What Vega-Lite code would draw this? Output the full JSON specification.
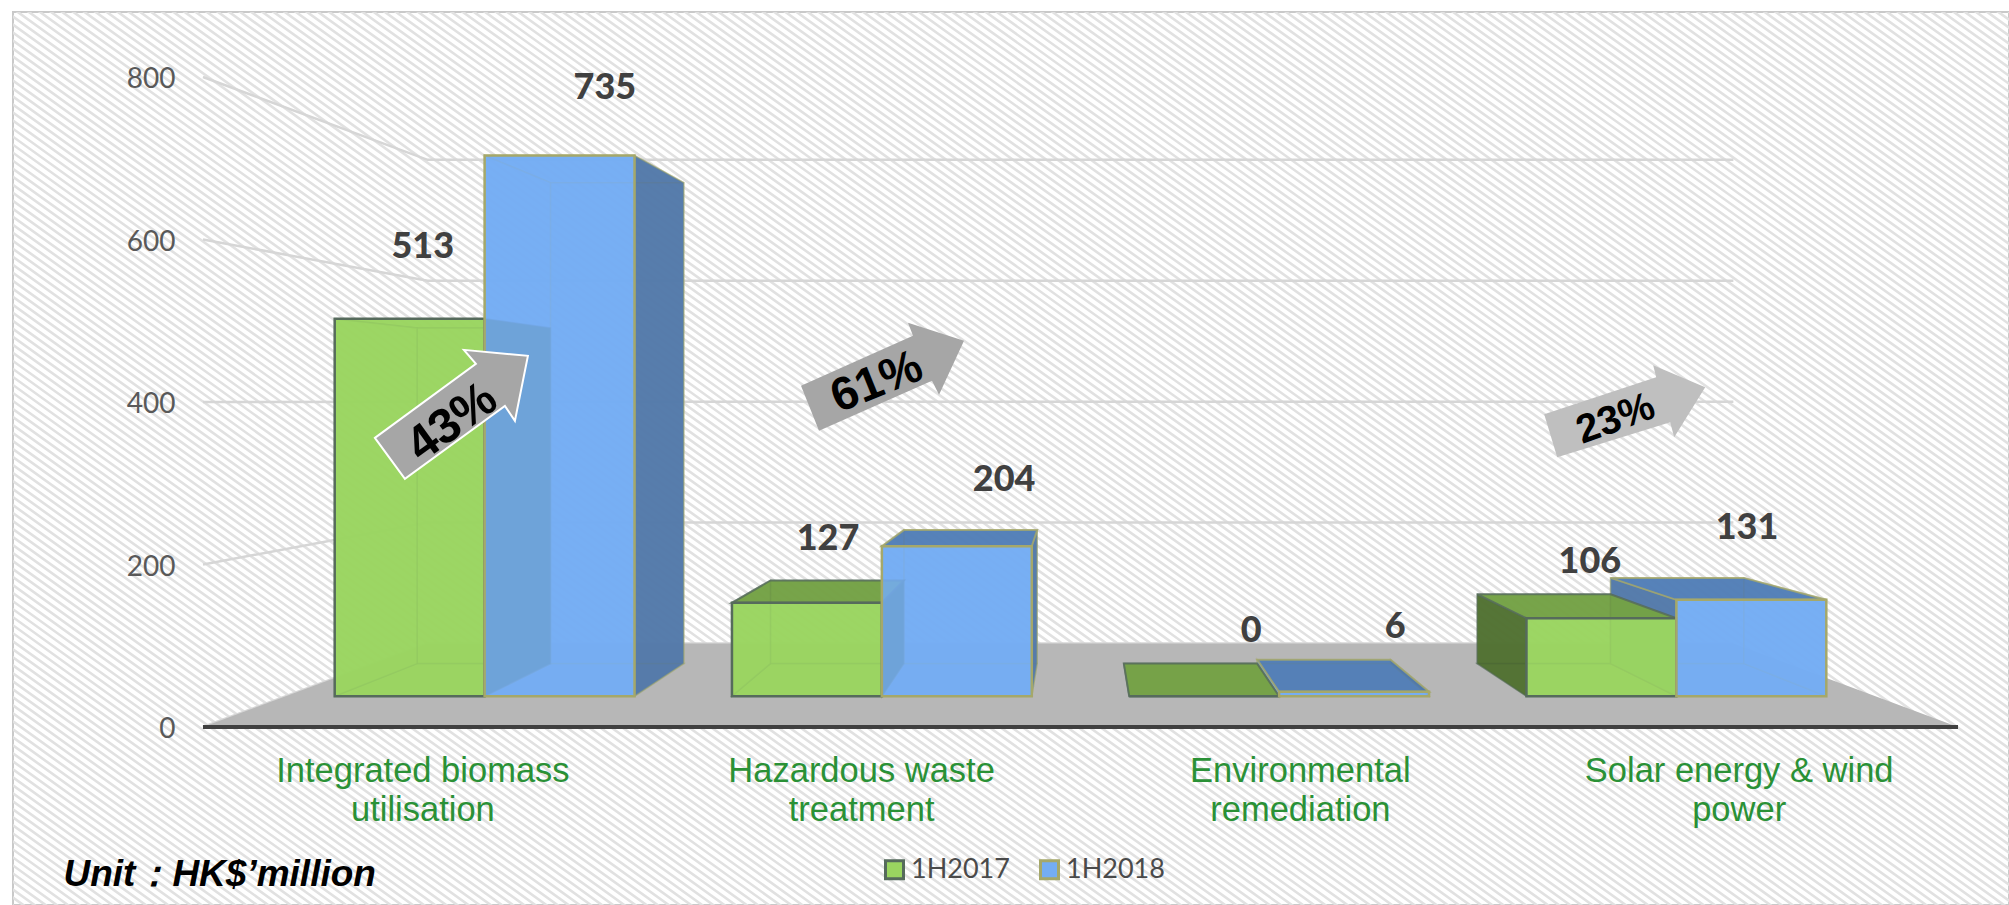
{
"$schema":"https://vega.github.io/schema/vega-lite/v6.json",
"width":1996,"height":893,
"autosize":"none",
"padding":{"left":13,"top":12,"right":0,"bottom":0},
"background":"white",
"view":{"stroke":"#c9c9c9","strokeWidth":2,"fill":"white"},
"datasets":{
"bars":[
{"category":"Integrated biomass utilisation","series":"1H2017","value":513},
{"category":"Hazardous waste treatment","series":"1H2017","value":127},
{"category":"Environmental remediation","series":"1H2017","value":0},
{"category":"Solar energy & wind power","series":"1H2017","value":106},
{"category":"Integrated biomass utilisation","series":"1H2018","value":735},
{"category":"Hazardous waste treatment","series":"1H2018","value":204},
{"category":"Environmental remediation","series":"1H2018","value":6},
{"category":"Solar energy & wind power","series":"1H2018","value":131}
],
"ticks":[{"tick":0},{"tick":200},{"tick":400},{"tick":600},{"tick":800}],
"floor":[{"depth":0},{"depth":1}],
"baseline":[{"x":0,"x2":4,"y":0}],
"texture":[{"x":-0.157,"y":-1157,"x2":3.836,"y2":1839}],
"growth":[
{"label":"43%","x":0.581,"y":394,"tx":0.5675,"ty":375},
{"label":"61%","x":1.559,"y":436,"tx":1.536,"ty":424},
{"label":"23%","x":3.246,"y":391,"tx":3.22,"ty":379}
],
"note":[{"text":"Unit：HK$’million","x":-0.318,"y":-182}]
},
"layer":[
{"data":{"name":"texture"},
 "mark":{"type":"rule","clip":true,"stroke":"#e1e1e1","strokeWidth":3200,"strokeDash":[2.6,3.9]},
 "encoding":{
  "x":{"field":"x","type":"quantitative","scale":{"domain":[-0.433,4.1162],"nice":false,"zero":false},"axis":{"values":[0.5,1.5,2.5,3.5],"title":null,"domain":false,"ticks":false,"grid":false,"offset":-151,"zindex":1,"labelPadding":0,"labelFont":"Liberation Sans","labelFontSize":34.5,"labelColor":"#2A9136","labelAngle":0,"labelAlign":"center","labelBaseline":"top","labelLineHeight":39,"labelLimit":0,"labelOverlap":false,"labelBound":false,"labelFlush":false,"labelExpr":"datum.value<1?['Integrated biomass','utilisation']:datum.value<2?['Hazardous waste','treatment']:datum.value<3?['Environmental','remediation']:['Solar energy & wind','power']"}},
  "y":{"field":"y","type":"quantitative","scale":{"domain":[-219.1,880],"nice":false,"zero":false},"axis":{"values":[0,200,400,600,800],"title":null,"domain":false,"ticks":false,"grid":false,"offset":-162,"zindex":1,"labelPadding":0,"labelOffset":3,"labelFont":"Lato","labelFontSize":28,"labelColor":"#595959","labelOverlap":false,"labelBound":false,"labelFlush":false}},
  "x2":{"field":"x2"},"y2":{"field":"y2"}
 }},
{"data":{"name":"ticks"},
 "transform":[
  {"calculate":"[0,1,2]","as":"pts"},
  {"flatten":["pts"],"as":["pt"]},
  {"calculate":"datum.pt==0?0:datum.pt==1?0.512:3.488","as":"gx"},
  {"calculate":"datum.pt==0?datum.tick:datum.tick*0.744+102.8","as":"gy"}
 ],
 "mark":{"type":"line","stroke":"#d6d6d6","strokeWidth":2.5},
 "encoding":{
  "x":{"field":"gx","type":"quantitative"},
  "y":{"field":"gy","type":"quantitative"},
  "detail":{"field":"tick"}
 }},
{"data":{"name":"floor"},
 "transform":[
  {"calculate":"datum.depth*0.512","as":"fx"},
  {"calculate":"4-datum.depth*0.512","as":"fx2"},
  {"calculate":"datum.depth*102.8","as":"fy"}
 ],
 "mark":{"type":"area","orient":"horizontal","fill":"#b7b7b7"},
 "encoding":{
  "y":{"field":"fy","type":"quantitative"},
  "x":{"field":"fx","type":"quantitative"},
  "x2":{"field":"fx2"}
 }},
{"data":{"name":"baseline"},
 "mark":{"type":"rule","stroke":"#404040","strokeWidth":4},
 "encoding":{
  "x":{"field":"x","type":"quantitative"},
  "x2":{"field":"x2"},
  "y":{"field":"y","type":"quantitative"}
 }},
{"data":{"name":"bars"},
 "transform":[
  {"calculate":"indexof(['Integrated biomass utilisation','Hazardous waste treatment','Environmental remediation','Solar energy & wind power'],datum.category)","as":"ci"},
  {"calculate":"datum.series=='1H2018'?1:0","as":"si"},
  {"calculate":"datum.ci+0.1226+datum.si*0.3774","as":"X0"},
  {"calculate":"datum.X0+0.3774","as":"X1"},
  {"calculate":"['back','left','right','top','bottom','front']","as":"faces"},
  {"flatten":["faces"],"as":["face"]},
  {"calculate":"[0,1]","as":"ends"},
  {"flatten":["ends"],"as":["end"]},
  {"calculate":"(datum.face=='back'||datum.end==1)?0.8054:0.9054","as":"s"},
  {"calculate":"(datum.face=='back'||datum.end==1)?78:37.9","as":"base"},
  {"calculate":"2+(datum.X0-2)*datum.s","as":"pL"},
  {"calculate":"2+(datum.X1-2)*datum.s","as":"pR"},
  {"calculate":"datum.face=='right'||(datum.face=='back'&&datum.end==1)?datum.pR:datum.pL","as":"ax"},
  {"calculate":"datum.face=='bottom'?datum.base:datum.value*datum.s+datum.base","as":"ay"},
  {"calculate":"(datum.si?'b-':'g-')+(datum.face=='top'?(datum.ci>0?'top':'light'):datum.face=='left'?(datum.ci==3?'dark':'light'):datum.face=='right'?(datum.ci<3?'dark':'light'):'light')","as":"shade"},
  {"calculate":"{'g-light':'#9AD560','g-dark':'#47632C','g-top':'#6F9A42','b-light':'#74ADF3','b-dark':'#4F729F','b-top':'#4E78AE'}[datum.shade]","as":"faceFill"},
  {"calculate":"datum.si?'#A5A86A':'#566B5C'","as":"faceEdge"},
  {"calculate":"datum.category+datum.series+datum.face","as":"faceId"}
 ],
 "layer":[
  {"transform":[{"filter":"datum.face=='bottom'||(datum.face=='top'&&datum.ci==0)"}],
   "mark":{"type":"area","orient":"horizontal","fillOpacity":0.85,"strokeOpacity":0.45,"strokeWidth":1.5},
   "encoding":{
    "y":{"field":"ay","type":"quantitative"},
    "x":{"field":"pL","type":"quantitative"},
    "x2":{"field":"pR"},
    "detail":{"field":"faceId"},
    "fill":{"field":"faceFill","type":"nominal","scale":null},
    "stroke":{"field":"faceEdge","type":"nominal","scale":null}
   }},
  {"transform":[{"filter":"datum.face=='back'||datum.face=='left'||(datum.si==1&&datum.face=='right')"}],
   "mark":{"type":"area","fillOpacity":0.85,"strokeOpacity":0.45,"strokeWidth":1.5},
   "encoding":{
    "x":{"field":"ax","type":"quantitative"},
    "y":{"field":"ay","type":"quantitative"},
    "y2":{"field":"base"},
    "detail":{"field":"faceId"},
    "fill":{"field":"faceFill","type":"nominal","scale":null},
    "stroke":{"field":"faceEdge","type":"nominal","scale":null}
   }},
  {"transform":[{"filter":"datum.si==1&&datum.face=='top'&&datum.ci>0"}],
   "mark":{"type":"area","orient":"horizontal","fillOpacity":0.85,"strokeOpacity":0.8,"strokeWidth":2},
   "encoding":{
    "y":{"field":"ay","type":"quantitative"},
    "x":{"field":"pL","type":"quantitative"},
    "x2":{"field":"pR"},
    "detail":{"field":"faceId"},
    "fill":{"field":"faceFill","type":"nominal","scale":null},
    "stroke":{"field":"faceEdge","type":"nominal","scale":null}
   }},
  {"transform":[{"filter":"datum.si==0&&datum.face=='right'"}],
   "mark":{"type":"area","fillOpacity":0.85,"strokeOpacity":0.45,"strokeWidth":1.5},
   "encoding":{
    "x":{"field":"ax","type":"quantitative"},
    "y":{"field":"ay","type":"quantitative"},
    "y2":{"field":"base"},
    "detail":{"field":"faceId"},
    "fill":{"field":"faceFill","type":"nominal","scale":null},
    "stroke":{"field":"faceEdge","type":"nominal","scale":null}
   }},
  {"transform":[{"filter":"datum.si==0&&datum.face=='top'&&datum.ci>0"}],
   "mark":{"type":"area","orient":"horizontal","fillOpacity":0.85,"strokeOpacity":0.8,"strokeWidth":2},
   "encoding":{
    "y":{"field":"ay","type":"quantitative"},
    "x":{"field":"pL","type":"quantitative"},
    "x2":{"field":"pR"},
    "detail":{"field":"faceId"},
    "fill":{"field":"faceFill","type":"nominal","scale":null},
    "stroke":{"field":"faceEdge","type":"nominal","scale":null}
   }},
  {"transform":[{"filter":"datum.face=='front'&&datum.end==0"}],
   "mark":{"type":"rect","fillOpacity":0.85,"strokeWidth":2.5},
   "encoding":{
    "x":{"field":"pL","type":"quantitative"},
    "x2":{"field":"pR"},
    "y":{"field":"ay","type":"quantitative"},
    "y2":{"field":"base"},
    "color":{"field":"series","type":"nominal","title":null,"scale":{"domain":["1H2017","1H2018"],"range":["#9AD560","#74ADF3"]},
     "legend":{"orient":"none","legendX":868,"legendY":844,"direction":"horizontal","symbolType":"square","symbolSize":324,"symbolStrokeWidth":3,"labelFont":"Lato","labelFontSize":27,"labelColor":"#4a4a4a","labelOffset":3,"columnPadding":24,"padding":0,"title":null}},
    "stroke":{"field":"series","type":"nominal","title":null,"scale":{"domain":["1H2017","1H2018"],"range":["#566B5C","#A5A86A"]}}
   }},
  {"transform":[
    {"filter":"datum.face=='front'&&datum.end==0"},
    {"calculate":"[0.501,0.916,1.4245,1.826,2.389,2.717,3.161,3.519][datum.ci*2+datum.si]","as":"lx"},
    {"calculate":"[593,789,234,306,121,126,206,247][datum.ci*2+datum.si]","as":"ly"}
   ],
   "mark":{"type":"text","font":"Lato","fontWeight":900,"fontSize":36,"fill":"#404040","baseline":"middle","align":"center","dy":2},
   "encoding":{
    "x":{"field":"lx","type":"quantitative"},
    "y":{"field":"ly","type":"quantitative"},
    "text":{"field":"value","type":"quantitative"}
   }}
 ]},
{"data":{"name":"growth"},
 "transform":[
  {"calculate":"{'43%':-36,'61%':-22,'23%':-20}[datum.label]","as":"tilt"},
  {"calculate":"{'43%':'M-0.83,0.31L0.18,-0.43L0.06,-0.57L0.7,-0.51L0.57,0.14L0.47,-0.01L-0.53,0.72Z','61%':'M-0.86,0.13L0.26,-0.37L0.21,-0.5L0.77,-0.32L0.52,0.22L0.45,0.08L-0.68,0.58Z','23%':'M-0.83,0.05L0.29,-0.32L0.26,-0.44L0.78,-0.22L0.47,0.28L0.43,0.13L-0.7,0.48Z'}[datum.label]","as":"glyph"},
  {"calculate":"{'43%':'#A6A6A6','61%':'#A6A6A6','23%':'#BFBFBF'}[datum.label]","as":"paint"},
  {"calculate":"{'43%':'#FFFFFF','61%':'transparent','23%':'transparent'}[datum.label]","as":"edge"},
  {"calculate":"{'43%':49,'61%':47,'23%':40}[datum.label]","as":"fs"}
 ],
 "layer":[
  {"mark":{"type":"point","filled":true,"opacity":1,"strokeWidth":2,"size":40000},
   "encoding":{
    "x":{"field":"x","type":"quantitative"},
    "y":{"field":"y","type":"quantitative"},
    "shape":{"field":"glyph","type":"nominal","scale":null},
    "fill":{"field":"paint","type":"nominal","scale":null},
    "stroke":{"field":"edge","type":"nominal","scale":null}
   }},
  {"mark":{"type":"text","font":"Liberation Sans","fontWeight":"bold","fill":"#000000","baseline":"middle","align":"center"},
   "encoding":{
    "x":{"field":"tx","type":"quantitative"},
    "y":{"field":"ty","type":"quantitative"},
    "angle":{"field":"tilt","type":"quantitative","scale":null},
    "size":{"field":"fs","type":"quantitative","scale":null},
    "text":{"field":"label"}
   }}
 ]},
{"data":{"name":"note"},
 "mark":{"type":"text","font":"Liberation Sans","fontWeight":"bold","fontStyle":"italic","fontSize":37,"fill":"#000000","align":"left","baseline":"middle"},
 "encoding":{
  "x":{"field":"x","type":"quantitative"},
  "y":{"field":"y","type":"quantitative"},
  "text":{"field":"text"}
 }}
]
}
